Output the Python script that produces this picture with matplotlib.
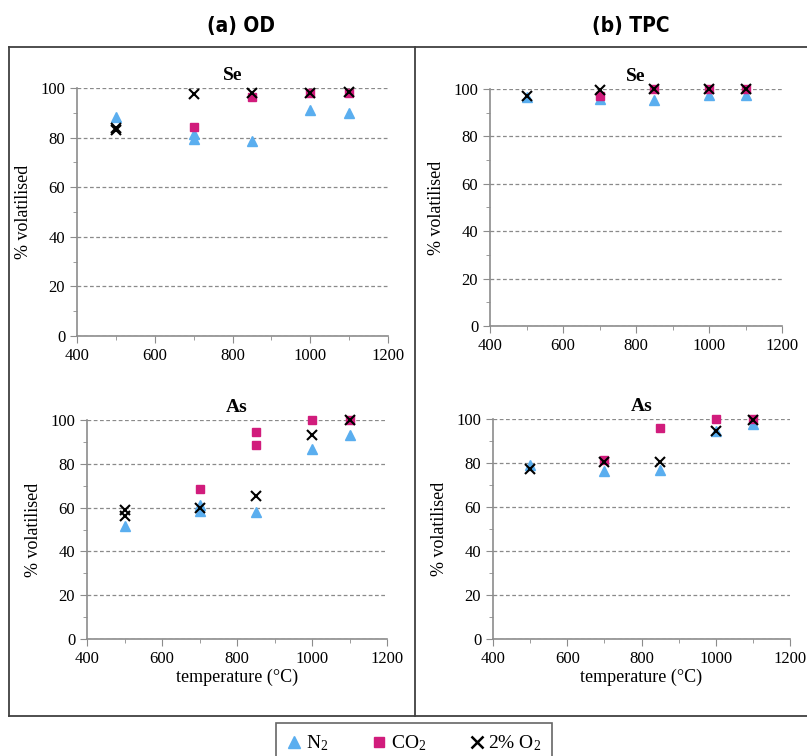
import matplotlib
matplotlib.use('Agg')
from matplotlib import pyplot as plt
from matplotlib.lines import Line2D
from matplotlib.ticker import MultipleLocator
import numpy as np

plt.rcParams['font.family'] = ['Liberation Serif', 'DejaVu Serif']
plt.rcParams['mathtext.fontset'] = 'stix'

W, H = 807, 756

# ---- data: temperature (oC) and % volatilised ----
se_od_n2_t = [500, 700, 700, 850, 1000, 1100]
se_od_n2 = [88.2, 81.5, 79.5, 78.8, 91.1, 89.8]
se_od_co2_t = [700, 850, 1000, 1100]
se_od_co2 = [84.1, 96.5, 98.1, 98.1]
se_od_o2_t = [500, 500, 700, 850, 1000, 1100]
se_od_o2 = [84.0, 83.0, 97.6, 97.8, 98.1, 98.4]

se_tpc_n2_t = [500, 700, 850, 1000, 1100]
se_tpc_n2 = [96.6, 95.8, 95.5, 97.6, 97.6]
se_tpc_co2_t = [700, 850, 1000, 1100]
se_tpc_co2 = [97.2, 100, 100, 100]
se_tpc_o2_t = [500, 700, 850, 1000, 1100]
se_tpc_o2 = [97.2, 99.4, 100, 100, 100]

as_od_n2_t = [500, 700, 700, 850, 1000, 1100]
as_od_n2 = [51.5, 61.0, 58.5, 57.9, 86.6, 93.0]
as_od_co2_t = [700, 850, 850, 1000, 1100]
as_od_co2 = [68.4, 94.5, 88.4, 99.8, 100]
as_od_o2_t = [500, 500, 700, 850, 1000, 1100]
as_od_o2 = [58.8, 56.3, 59.6, 65.2, 93.3, 100]

as_tpc_n2_t = [500, 700, 850, 1000, 1100]
as_tpc_n2 = [79.0, 76.4, 77.0, 94.4, 97.6]
as_tpc_co2_t = [700, 850, 1000, 1100]
as_tpc_co2 = [81.2, 95.8, 100, 100]
as_tpc_o2_t = [500, 700, 850, 1000, 1100]
as_tpc_o2 = [77.4, 80.3, 80.3, 94.4, 99.4]

blue = '#5AAEEF'
pink = '#D11C7C'


def px_axes(fig, left, right, top, bottom):
    return fig.add_axes([left / W, 1 - bottom / H, (right - left) / W, (bottom - top) / H])


def panel(ax, title, n2, co2, o2, xlabel=False):
    ax.plot(n2[0], n2[1], linestyle='none', marker='^', ms=7, color=blue, mec=blue, clip_on=False)
    ax.plot(co2[0], co2[1], linestyle='none', marker='s', ms=6, color=pink, mec=pink, clip_on=False)
    ax.plot(o2[0], o2[1], linestyle='none', marker='x', ms=7, mew=1.5, color='black', clip_on=False)
    ax.set_xlim(400, 1200)
    ax.set_ylim(0, 100)
    ax.xaxis.set_major_locator(MultipleLocator(200))
    ax.xaxis.set_minor_locator(MultipleLocator(100))
    ax.yaxis.set_major_locator(MultipleLocator(20))
    ax.yaxis.set_minor_locator(MultipleLocator(10))
    for s in ['top', 'right']:
        ax.spines[s].set_visible(False)
    for s in ['left', 'bottom']:
        ax.spines[s].set_color('#8c8c8c')
        ax.spines[s].set_linewidth(1.2)
    ax.tick_params(which='both', direction='out', color='#8c8c8c', labelsize=12)
    ax.tick_params(which='major', length=5)
    ax.tick_params(which='minor', length=3)
    ax.grid(axis='y', which='major', linestyle=(0, (3, 2)), color='#8a8a8a', linewidth=0.9)
    ax.set_axisbelow(True)
    ax.set_title(title, fontsize=14, fontweight='bold', pad=6)
    ax.set_ylabel('% volatilised', fontsize=13, labelpad=6)
    if xlabel:
        ax.set_xlabel('temperature (°C)', fontsize=13, labelpad=1)


fig = plt.figure(figsize=(W / 100, H / 100), dpi=100)

ax1 = px_axes(fig, 77, 388, 88, 336)
panel(ax1, 'Se', (se_od_n2_t, se_od_n2), (se_od_co2_t, se_od_co2), (se_od_o2_t, se_od_o2))
ax2 = px_axes(fig, 490, 782, 89, 326)
panel(ax2, 'Se', (se_tpc_n2_t, se_tpc_n2), (se_tpc_co2_t, se_tpc_co2), (se_tpc_o2_t, se_tpc_o2))
ax3 = px_axes(fig, 87, 387, 420, 639)
panel(ax3, 'As', (as_od_n2_t, as_od_n2), (as_od_co2_t, as_od_co2), (as_od_o2_t, as_od_o2), xlabel=True)
ax4 = px_axes(fig, 493, 790, 419, 639)
panel(ax4, 'As', (as_tpc_n2_t, as_tpc_n2), (as_tpc_co2_t, as_tpc_co2), (as_tpc_o2_t, as_tpc_o2), xlabel=True)

# outer frames
frame = dict(color='#404040', linewidth=1.3, transform=fig.transFigure)
fig.add_artist(Line2D([9 / W, 1], [1 - 47 / H, 1 - 47 / H], **frame))
fig.add_artist(Line2D([9 / W, 1], [1 - 716 / H, 1 - 716 / H], **frame))
fig.add_artist(Line2D([9 / W, 9 / W], [1 - 47 / H, 1 - 716 / H], **frame))
fig.add_artist(Line2D([415 / W, 415 / W], [1 - 47 / H, 1 - 716 / H], **frame))

head = dict(fontsize=15, fontweight='bold', ha='center', va='center', fontstretch='condensed',
            family=['Liberation Sans Narrow', 'DejaVu Sans'])
fig.text(241 / W, 1 - 26 / H, '(a) OD', **head)
fig.text(631 / W, 1 - 26 / H, '(b) TPC', **head)

handles = [
    Line2D([], [], linestyle='none', marker='^', ms=8, color=blue),
    Line2D([], [], linestyle='none', marker='s', ms=7, color=pink),
    Line2D([], [], linestyle='none', marker='x', ms=8, mew=1.8, color='black'),
]
labels = [r'N$_\mathregular{2}$', r'CO$_\mathregular{2}$', r'2% O$_\mathregular{2}$']
leg = fig.legend(handles, labels, loc='upper center', bbox_to_anchor=(414 / W, 1 - 723 / H),
                 ncol=3, fontsize=14, frameon=True, fancybox=False, handlelength=0.8,
                 handletextpad=0.2, columnspacing=2.2, borderpad=0.55, borderaxespad=0,
                 labelspacing=0.2)
leg.get_frame().set_edgecolor('#404040')
leg.get_frame().set_linewidth(1.2)

fig.savefig('out.png', dpi=100)
